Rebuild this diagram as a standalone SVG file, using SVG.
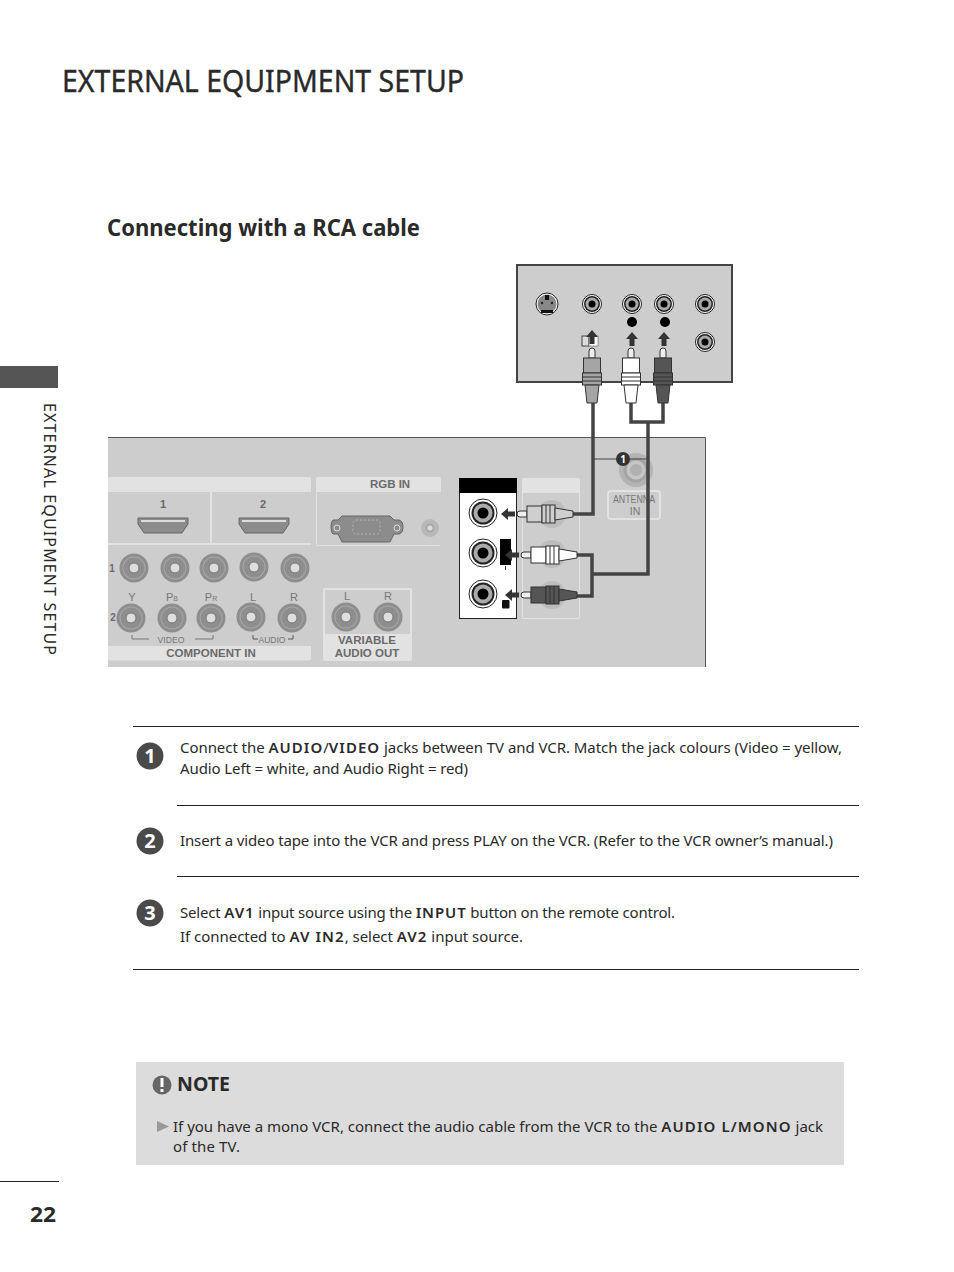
<svg xmlns="http://www.w3.org/2000/svg" xmlns:xlink="http://www.w3.org/1999/xlink" width="954" height="1272" viewBox="0 0 954 1272">
<style>
text{font-family:"Noto Sans","Open Sans",sans-serif;fill:#2a2a2a}
.body{font-size:15px}
.b{font-weight:600;letter-spacing:1.100px}
.rule{stroke:#222;stroke-width:1;fill:none}
.lab{font-family:"Liberation Sans",Arial,sans-serif;fill:#777;text-anchor:middle}
.lb{font-family:"Liberation Sans",Arial,sans-serif;fill:#6a6a6a;text-anchor:middle;font-weight:700}
.cable{fill:none;stroke:#444;stroke-width:3.500}
.num{fill:#fff;font-weight:700;text-anchor:middle}
.well{fill:#cdcdcd}
.arrow{fill:#333}
</style>
<defs>
<g id="gj"><circle r="14.500" fill="#8e8e8e"/><circle r="11.500" fill="#a6a6a6"/><circle r="10.500" fill="#8e8e8e"/><circle r="5" fill="#dedede" stroke="#777"/></g>
<g id="wj"><circle r="14" fill="#fff" stroke="#222"/><circle r="11.500" fill="#222"/><circle r="9.500" fill="#aaa"/><circle r="5.500" fill="#000"/></g>
<g id="sj"><circle r="9.500" fill="#fff" stroke="#222"/><circle r="8" fill="#222"/><circle r="6.500" fill="#aaa"/><circle r="3.500" fill="#000"/></g>
<g id="hdmi"><path d="M-25-8H25V-2L19 7H-19L-25-2Z" fill="#8c8c8c" stroke="#666"/><rect x="-22" y="-6" width="44" height="2" fill="#ddd"/></g>
<g id="ajack"><circle r="14" fill="#bdbdbd"/><circle r="8" fill="#aaa"/><circle r="4" fill="#ccc"/></g>
<g id="vplug"><path d="M-3 358V351Q-3 348 0 348Q3 348 3 351V358Z" fill="#eee" stroke="#333"/><rect x="-8.500" y="358" width="17" height="15" fill="var(--f)" stroke="#333"/><rect x="-9.500" y="373" width="19" height="12" fill="var(--f)" stroke="#333"/><path d="M-9.500 377H9.500M-9.500 381H9.500" stroke="#333" fill="none"/><path d="M-7 385H7L5 403H-5Z" fill="var(--f)" stroke="#333"/></g>
<g id="hplug"><path d="M10 -3H3Q0 -3 0 0Q0 3 3 3H10Z" fill="#eee" stroke="#333"/><rect x="10" y="-8" width="15" height="16" fill="var(--f)" stroke="#333"/><rect x="25" y="-9" width="13" height="18" fill="var(--f)" stroke="#333"/><path d="M29-9V9M33-9V9" stroke="#333" fill="none"/><path d="M38-6L56-3V3L38 6Z" fill="var(--f)" stroke="#333"/></g>
<path id="upa" d="M0 0L6 7H2.500V14H-2.500V7H-6Z"/>
<path id="lfa" d="M0 0L7-6V-2.500H14V2.500H7V6Z"/>
</defs>
<rect width="954" height="1272" fill="#fff"/>

<g id="page-title"><text x="62" y="92" font-size="31" stroke="#2a2a2a" stroke-width=".4" textLength="402" lengthAdjust="spacingAndGlyphs">EXTERNAL EQUIPMENT SETUP</text></g>
<g id="heading"><text x="107" y="236" font-size="24" font-weight="700" fill="#333" textLength="313" lengthAdjust="spacingAndGlyphs">Connecting with a RCA cable</text></g>

<g id="side-tab">
<rect x="0" y="366" width="58" height="22" fill="#555"/>
<text transform="translate(44 403) rotate(90)" font-size="16" textLength="252">EXTERNAL EQUIPMENT SETUP</text>
</g>

<g id="vcr-panel">
<rect x="517" y="265" width="215" height="117" fill="#cdcdcd" stroke="#444" stroke-width="2"/>
<g id="svideo"><circle cx="547" cy="304" r="11" fill="#fff" stroke="#222"/><circle cx="547" cy="304" r="9.500" fill="#888"/><rect x="545" y="295" width="4" height="5" fill="#111"/><path d="M541 310H553V313H541Z" fill="#111"/><circle cx="542" cy="303" r="1.200" fill="#222"/><circle cx="552" cy="303" r="1.200" fill="#222"/></g>
<use href="#sj" x="592" y="304"/>
<use href="#sj" x="632" y="304"/>
<use href="#sj" x="664" y="304"/>
<use href="#sj" x="705" y="304"/>
<use href="#sj" x="705" y="342"/>
<circle cx="632" cy="322" r="5" fill="#000"/>
<circle cx="665" cy="322" r="5" fill="#000"/>
<rect x="582" y="336" width="7" height="10" fill="#ddd" stroke="#444"/>
<rect x="589" y="336" width="9" height="10" fill="#fff" stroke="#444" stroke-width=".5"/>
<use href="#upa" x="592" y="330" class="arrow"/>
<use href="#upa" x="632" y="332" class="arrow"/>
<use href="#upa" x="664" y="332" class="arrow"/>
</g>

<g id="tv-panel">
<rect x="108" y="437" width="597" height="230" fill="#cdcdcd"/>
<path d="M108 437.500H705.500V667" fill="none" stroke="#555"/>
</g>

<g id="hdmi-component">
<rect x="108" y="477" width="203" height="183.500" rx="2" fill="#e2e2e2"/>
<rect class="well" x="108" y="492" width="102" height="51"/>
<rect class="well" x="212" y="492" width="99" height="51"/>
<rect class="well" x="108" y="545" width="203" height="101"/>
<text class="lb" x="163" y="508" font-size="11">1</text>
<text class="lb" x="263" y="508" font-size="11">2</text>
<use href="#hdmi" x="163" y="526"/>
<use href="#hdmi" x="264" y="526"/>
<use href="#gj" x="134" y="568"/><use href="#gj" x="175" y="568"/><use href="#gj" x="214" y="568"/><use href="#gj" x="254" y="567"/><use href="#gj" x="295" y="568"/>
<use href="#gj" x="131" y="618"/><use href="#gj" x="172" y="618"/><use href="#gj" x="211" y="618"/><use href="#gj" x="251" y="617"/><use href="#gj" x="292" y="618"/>
<text class="lb" x="112" y="572" font-size="10">1</text>
<text class="lb" x="113" y="621" font-size="10">2</text>
<text class="lab" x="132" y="601" font-size="11">Y</text>
<text class="lab" x="172" y="601" font-size="11">P<tspan font-size="7">B</tspan></text>
<text class="lab" x="211" y="601" font-size="11">P<tspan font-size="7">R</tspan></text>
<text class="lab" x="253" y="601" font-size="11">L</text>
<text class="lab" x="294" y="601" font-size="11">R</text>
<path d="M132 635V639H149M195 639H213V635" fill="none" stroke="#777"/>
<text class="lab" x="171" y="643" font-size="9.500" textLength="27" lengthAdjust="spacingAndGlyphs">VIDEO</text>
<path d="M253 635V639H258M293 635V639H288" fill="none" stroke="#555"/>
<text class="lab" x="272" y="643" font-size="9.500" textLength="27" lengthAdjust="spacingAndGlyphs">AUDIO</text>
<text class="lb" x="211" y="657" font-size="11.500">COMPONENT IN</text>
</g>

<g id="rgb-in">
<rect x="316" y="477" width="125" height="69" rx="2" fill="#e2e2e2"/>
<rect class="well" x="317" y="492" width="124" height="53"/>
<text class="lb" x="390" y="488" font-size="11.500">RGB IN</text>
<path d="M342 516H390L394 520H399Q403 521 403 527Q403 533 399 534H394L390 542H342L338 534H333Q331 533 331 527Q331 521 333 520H338Z" fill="#8c8c8c" stroke="#666"/>
<rect x="353" y="520" width="27" height="14" rx="3" fill="none" stroke="#b5b5b5" stroke-dasharray="2 2"/>
<circle cx="337" cy="528" r="3" fill="none" stroke="#ddd"/>
<circle cx="397" cy="528" r="3" fill="none" stroke="#ddd"/>
<circle cx="430" cy="528" r="9" fill="#b8b8b8"/><circle cx="430" cy="528" r="4.500" fill="#a8a8a8"/><circle cx="430" cy="528" r="2.500" fill="#ddd"/>
</g>

<g id="variable-audio">
<rect x="323" y="588" width="89" height="73" rx="2" fill="#e2e2e2"/>
<rect class="well" x="325" y="590" width="85" height="44"/>
<use href="#gj" x="346" y="617"/><use href="#gj" x="388" y="617"/>
<text class="lab" x="347" y="600" font-size="11">L</text>
<text class="lab" x="388" y="600" font-size="11">R</text>
<text class="lb" x="367" y="644" font-size="11.500">VARIABLE</text>
<text class="lb" x="367" y="657" font-size="11.500">AUDIO OUT</text>
</g>

<g id="av-highlight">
<rect x="459.500" y="478.500" width="57" height="140" fill="#fff" stroke="#222"/>
<rect x="459" y="478" width="58" height="15" fill="#000"/>
<use href="#wj" x="483" y="513"/>
<use href="#wj" x="483" y="553"/>
<use href="#wj" x="483" y="594"/>
<rect x="500" y="539" width="11" height="26" fill="#000"/>
<rect x="505" y="566" width="1" height="4" fill="#333"/>
<rect x="502" y="600" width="7.500" height="8.500" rx="1" fill="#111"/>
<use href="#lfa" x="501" y="514" class="arrow"/>
<use href="#lfa" x="505" y="555" class="arrow"/>
<use href="#lfa" x="505" y="595" class="arrow"/>
</g>

<g id="side-jacks">
<rect x="522" y="478" width="58" height="141" rx="2" fill="#e2e2e2"/>
<rect class="well" x="523" y="493" width="56" height="125"/>
<use href="#ajack" x="552" y="514"/>
<use href="#ajack" x="552" y="554"/>
<use href="#ajack" x="552" y="595"/>
</g>

<g id="antenna">
<circle cx="636" cy="470" r="17" fill="#b4b4b4"/><circle cx="636" cy="470" r="11" fill="#c6c6c6" stroke="#a4a4a4" stroke-width="3"/><circle cx="636" cy="470" r="6" fill="#b0b0b0"/>
<rect x="608" y="491" width="52" height="28" rx="3" fill="none" stroke="#e2e2e2" stroke-width="2"/>
<text class="lab" x="634" y="503" font-size="10.500" textLength="42" lengthAdjust="spacingAndGlyphs">ANTENNA</text>
<text class="lab" x="635" y="515" font-size="10.500">IN</text>
</g>

<g id="connectors">
<path class="cable" d="M593 403V514H573"/>
<path class="cable" d="M631 403V422H663V403"/>
<path class="cable" d="M648 422V574H593"/>
<path class="cable" d="M577 555H592V596H577"/>
<path d="M593 459H648" stroke="#444" stroke-width="1" fill="none"/>
</g>

<g id="plugs">
<use href="#vplug" x="592" style="--f:#a5a5a5"/>
<use href="#vplug" x="631" style="--f:#fff"/>
<use href="#vplug" x="663" style="--f:#555"/>
<use href="#hplug" x="517" y="514" style="--f:#cfcfcf"/>
<use href="#hplug" x="521" y="555" style="--f:#fff"/>
<use href="#hplug" x="521" y="595" style="--f:#555"/>
</g>

<g id="callout-1"><circle cx="623" cy="459" r="7" fill="#333"/><text class="num" x="623" y="463" font-size="10">1</text></g>

<g id="step-rules">
<path class="rule" d="M133 726.500H859M177 805.500H859M177 876.500H859M133 969.500H859"/>
</g>

<g id="step-1">
<circle cx="150" cy="756" r="13.500" fill="#4a4a4a"/><text class="num" x="150" y="763" font-size="20">1</text>
<text class="body" x="180" y="753" textLength="662">Connect the <tspan class="b">AUDIO</tspan>/<tspan class="b">VIDEO</tspan> jacks between TV and VCR. Match the jack colours (Video = yellow,</text>
<text class="body" x="180" y="774" textLength="288">Audio Left = white, and Audio Right = red)</text>
</g>
<g id="step-2">
<circle cx="150" cy="841" r="13.500" fill="#4a4a4a"/><text class="num" x="150" y="848" font-size="20">2</text>
<text class="body" x="180" y="846" textLength="653">Insert a video tape into the VCR and press PLAY on the VCR. (Refer to the VCR owner’s manual.)</text>
</g>
<g id="step-3">
<circle cx="150" cy="913" r="13.500" fill="#4a4a4a"/><text class="num" x="150" y="920" font-size="20">3</text>
<text class="body" x="180" y="918" textLength="495">Select <tspan class="b">AV1</tspan> input source using the <tspan class="b">INPUT</tspan> button on the remote control.</text>
<text class="body" x="180" y="942" textLength="343">If connected to <tspan class="b">AV IN2</tspan>, select <tspan class="b">AV2</tspan> input source.</text>
</g>

<g id="note">
<rect x="136" y="1062" width="708" height="103" fill="#dcdcdc"/>
<circle cx="162" cy="1085" r="9.500" fill="#666"/>
<rect x="160.500" y="1078" width="3" height="9" fill="#fff"/><rect x="160.500" y="1089" width="3" height="3" fill="#fff"/>
<text x="177" y="1091" font-size="20" font-weight="700" textLength="53" lengthAdjust="spacingAndGlyphs">NOTE</text>
<path d="M157 1121L169 1126.500L157 1132Z" fill="#999"/>
<text class="body" x="173" y="1132" textLength="650">If you have a mono VCR, connect the audio cable from the VCR to the <tspan class="b">AUDIO L/MONO</tspan> jack</text>
<text class="body" x="173" y="1152" textLength="67">of the TV.</text>
</g>

<g id="footer">
<path d="M0 1181.500H59" stroke="#222" fill="none"/>
<text x="30" y="1222" font-size="22" font-weight="700" textLength="26" lengthAdjust="spacingAndGlyphs">22</text>
</g>
</svg>
